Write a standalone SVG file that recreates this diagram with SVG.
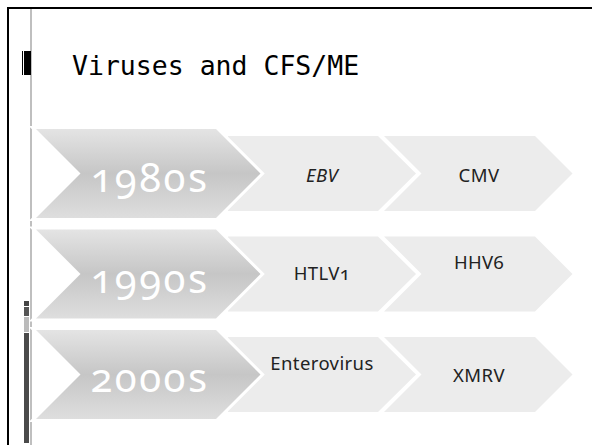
<svg xmlns="http://www.w3.org/2000/svg" width="592" height="445" viewBox="0 0 592 445">
<defs>
<linearGradient id="chev" x1="0" y1="0" x2="0" y2="1">
<stop offset="0" stop-color="#e4e4e4"/>
<stop offset="0.5" stop-color="#c6c6c6"/>
<stop offset="1" stop-color="#dedede"/>
</linearGradient>
<style>
.chev{fill:url(#chev);stroke:#ffffff;stroke-width:6;paint-order:stroke;stroke-linejoin:miter}
.box{fill:#ececec}
.year{font-family:"Noto Sans","Open Sans","Liberation Sans",sans-serif;font-size:40px;fill:#ffffff;text-anchor:middle;font-variant-numeric:oldstyle-nums;font-feature-settings:"onum" 1;letter-spacing:2.5px}
.lbl{font-family:"Noto Sans","Open Sans","Liberation Sans",sans-serif;font-size:18.5px;fill:#222222;text-anchor:middle;font-variant-numeric:oldstyle-nums;font-feature-settings:"onum" 1;letter-spacing:0.4px}
.title{font-family:"DejaVu Sans Mono",monospace;font-size:26.5px;fill:#000000}
</style>
</defs>
<rect x="0" y="0" width="592" height="445" fill="#ffffff"/>
<g id="frame">
<rect x="7" y="7" width="585" height="2" fill="#000000"/>
<rect x="7" y="7" width="2" height="438" fill="#000000"/>
<rect x="30.5" y="9" width="1" height="436" fill="#808080"/>
<rect x="24" y="51" width="7" height="24" fill="#000000"/>
<rect x="22" y="51" width="1" height="24" fill="#000000"/>
<rect x="24" y="301" width="5" height="5" fill="#444444"/>
<rect x="24" y="307" width="5" height="9" fill="#555555"/>
<rect x="24" y="317" width="5" height="15" fill="#bbbbbb"/>
<rect x="24" y="333" width="5" height="110" fill="#4a4a4a"/>
</g>
<g id="title"><text class="title" x="72" y="75">Viruses and CFS/ME</text></g>
<g id="row-1980s">
<path class="box" d="M228,136 L378,136 L416,173.5 L378,211 L228,211 Z"/>
<path class="box" d="M384,136 L535,136 L572.5,173.5 L535,211 L384,211 L421.5,173.5 Z"/>
<path class="chev" d="M36,129 L216,129 L260.5,173.5 L216,218 L36,218 L80.5,173.5 Z"/>
<text class="year" x="150" y="192">1980s</text>
<text class="lbl" x="322" y="182" font-style="italic">EBV</text>
<text class="lbl" x="479" y="182">CMV</text>
</g>
<g id="row-1990s">
<path class="box" d="M228,236.5 L378,236.5 L416,274 L378,311.5 L228,311.5 Z"/>
<path class="box" d="M384,236.5 L535,236.5 L572.5,274 L535,311.5 L384,311.5 L421.5,274 Z"/>
<path class="chev" d="M36,229.5 L216,229.5 L260.5,274 L216,318.5 L36,318.5 L80.5,274 Z"/>
<text class="year" x="150" y="293">1990s</text>
<text class="lbl" x="322" y="280">HTLV1</text>
<text class="lbl" x="479" y="269">HHV6</text>
</g>
<g id="row-2000s">
<path class="box" d="M228,337 L378,337 L416,374.5 L378,412 L228,412 Z"/>
<path class="box" d="M384,337 L535,337 L572.5,374.5 L535,412 L384,412 L421.5,374.5 Z"/>
<path class="chev" d="M36,330 L216,330 L260.5,374.5 L216,419 L36,419 L80.5,374.5 Z"/>
<text class="year" x="150" y="392">2000s</text>
<text class="lbl" x="322" y="370">Enterovirus</text>
<text class="lbl" x="479" y="382">XMRV</text>
</g>
<g id="connectors"/>
</svg>
